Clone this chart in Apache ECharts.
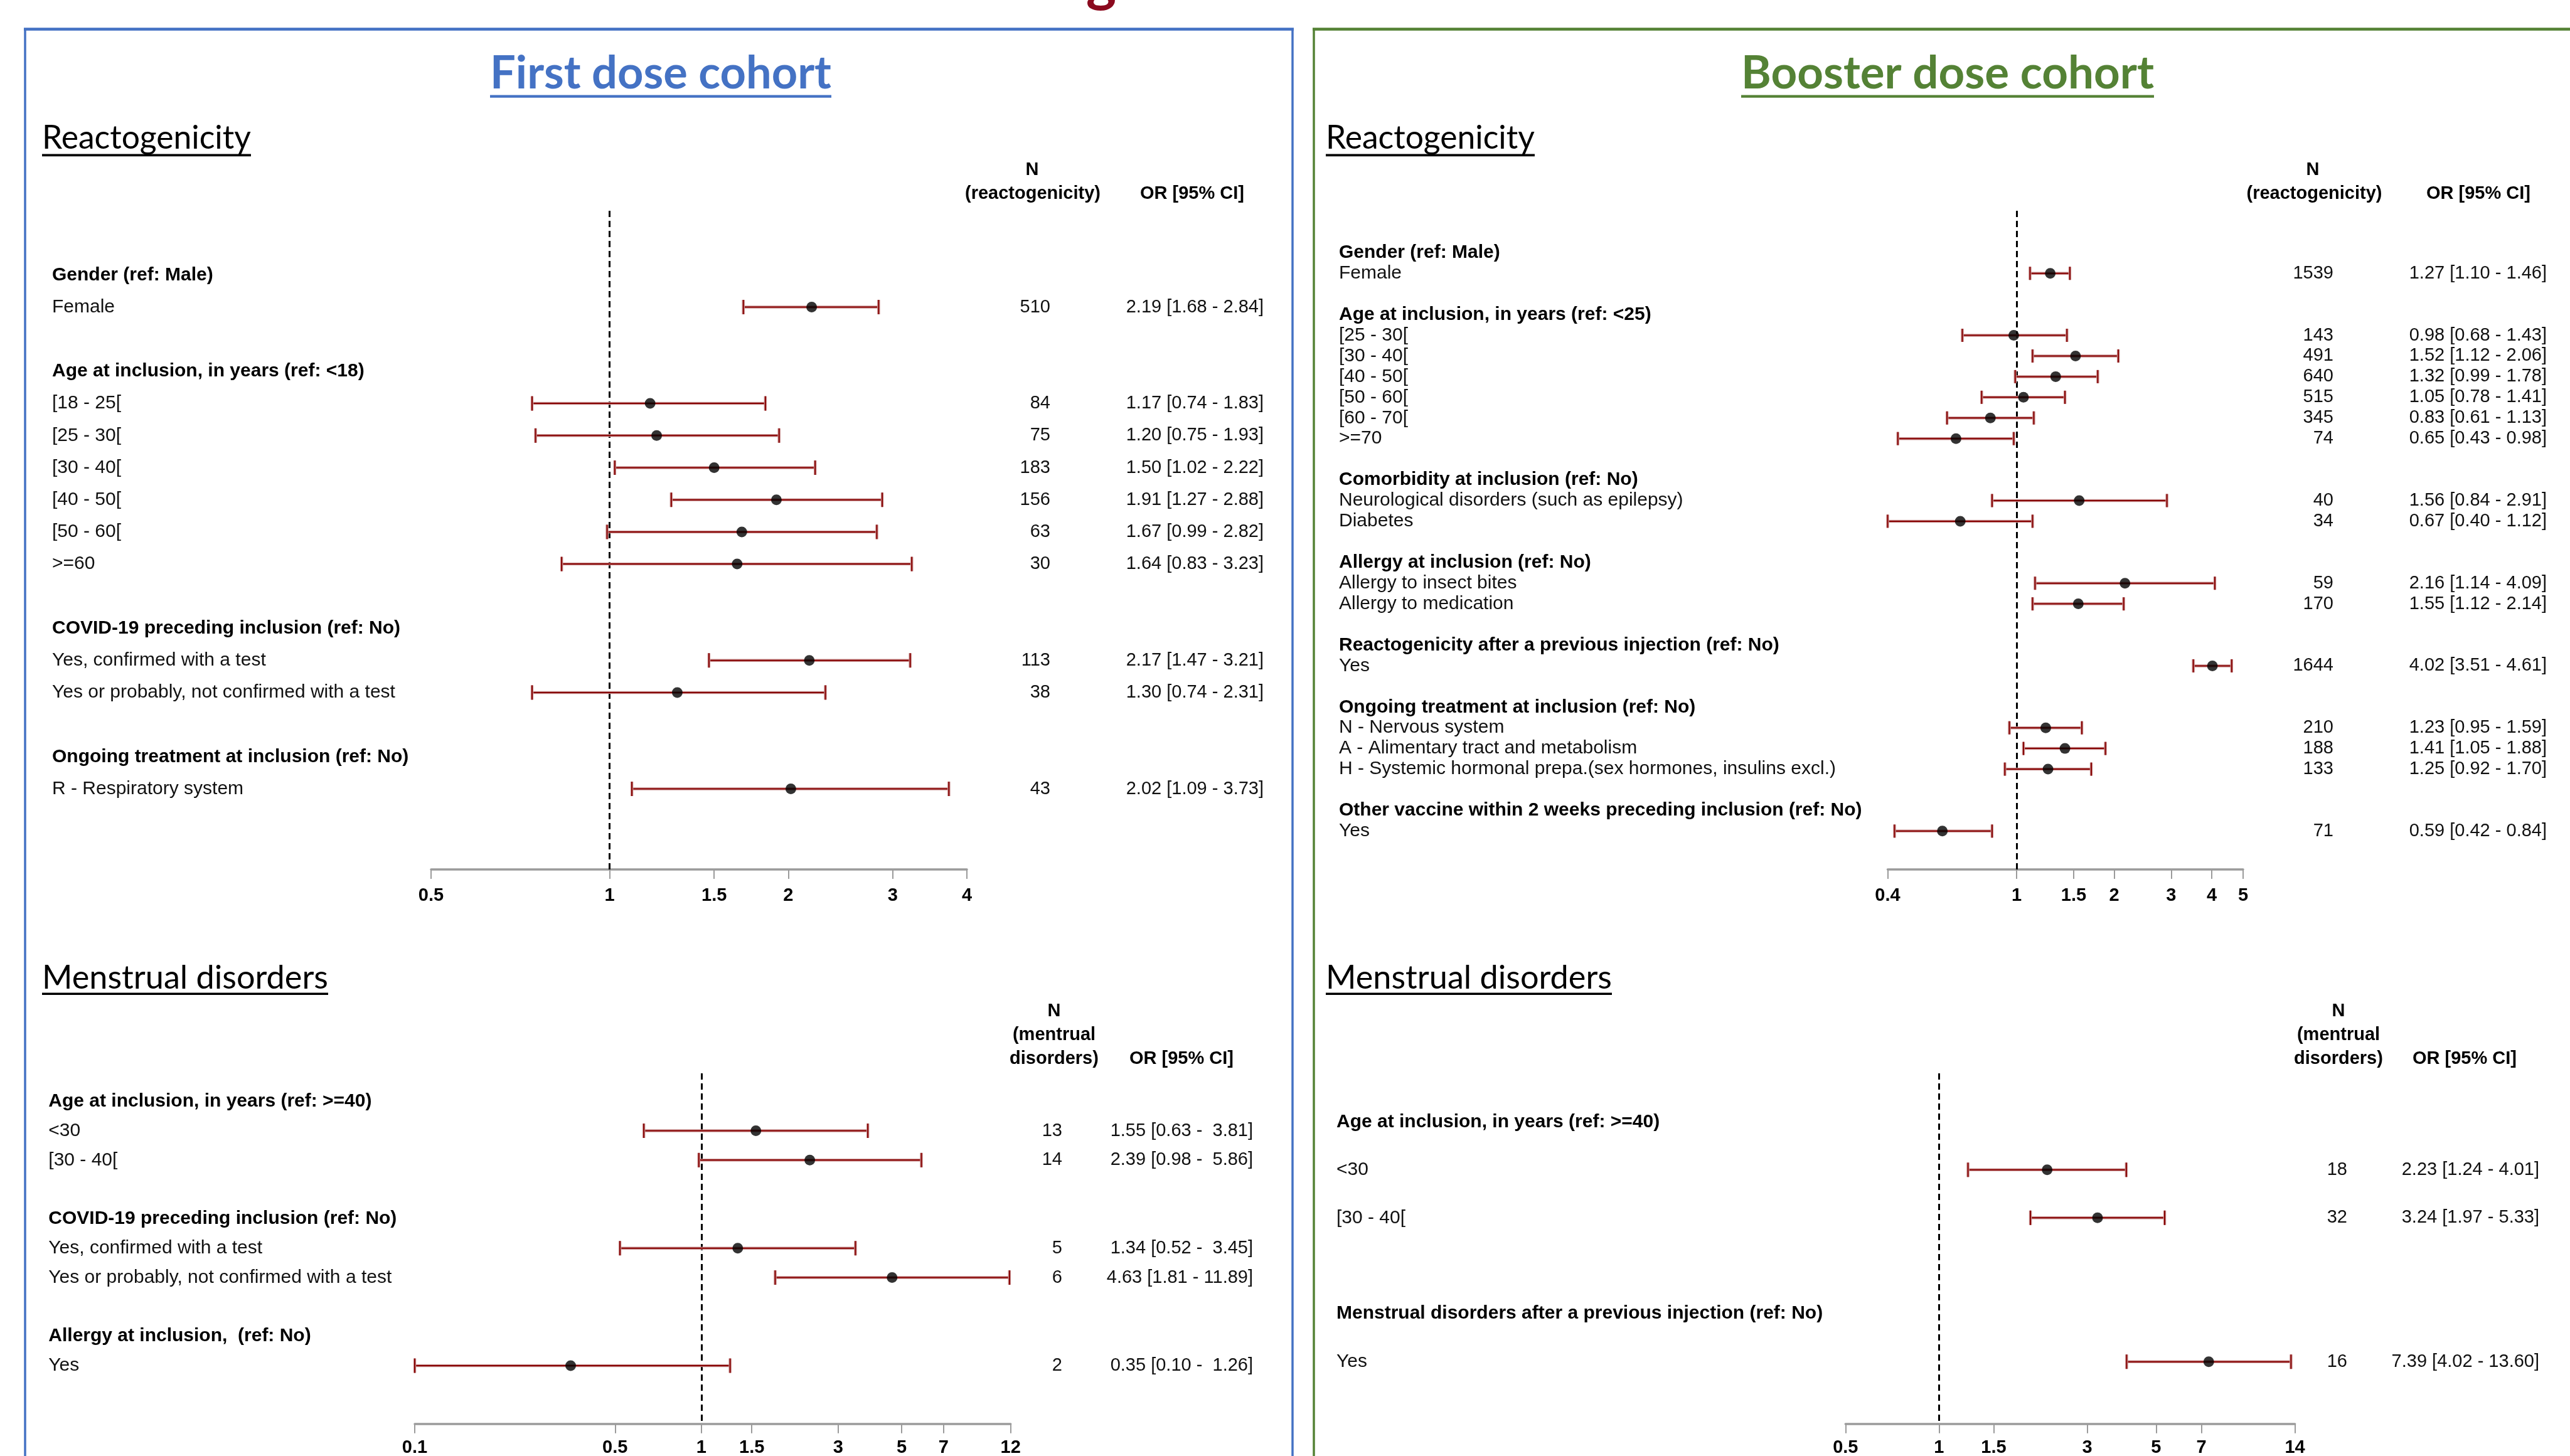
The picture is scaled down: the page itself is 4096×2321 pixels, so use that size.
<!DOCTYPE html>
<html><head><meta charset="utf-8">
<script src="https://cdn.jsdelivr.net/npm/echarts@6.0.0/dist/echarts.min.js"></script>
<style>html,body{margin:0;padding:0;background:#fff;overflow:hidden}#chart{width:4096px;height:2321px}</style>
</head><body><div id="chart"></div>
<script>
// ================= DATA =================
// First dose cohort - Reactogenicity
const fdReactoLabels = [
  'Gender (ref: Male)', 'Female', '',
  'Age at inclusion, in years (ref: <18)', '[18 - 25[', '[25 - 30[', '[30 - 40[', '[40 - 50[', '[50 - 60[', '>=60', '',
  'COVID-19 preceding inclusion (ref: No)', 'Yes, confirmed with a test', 'Yes or probably, not confirmed with a test', '',
  'Ongoing treatment at inclusion (ref: No)', 'R - Respiratory system'
];
const fdReactoHeaders = ['Gender (ref: Male)', 'Age at inclusion, in years (ref: <18)', 'COVID-19 preceding inclusion (ref: No)', 'Ongoing treatment at inclusion (ref: No)'];
const fdReactoOR   = [2.19, 1.17, 1.20, 1.50, 1.91, 1.67, 1.64, 2.17, 1.30, 2.02];
const fdReactoLow  = [1.68, 0.74, 0.75, 1.02, 1.27, 0.99, 0.83, 1.47, 0.74, 1.09];
const fdReactoHigh = [2.84, 1.83, 1.93, 2.22, 2.88, 2.82, 3.23, 3.21, 2.31, 3.73];
const fdReactoN    = [510, 84, 75, 183, 156, 63, 30, 113, 38, 43];
const fdReactoCI   = ['2.19 [1.68 - 2.84]', '1.17 [0.74 - 1.83]', '1.20 [0.75 - 1.93]', '1.50 [1.02 - 2.22]', '1.91 [1.27 - 2.88]',
                      '1.67 [0.99 - 2.82]', '1.64 [0.83 - 3.23]', '2.17 [1.47 - 3.21]', '1.30 [0.74 - 2.31]', '2.02 [1.09 - 3.73]'];
const fdReactoTicks = [0.5, 1, 1.5, 2, 3, 4];

// Booster dose cohort - Reactogenicity
const bdReactoLabels = [
  'Gender (ref: Male)', 'Female', '',
  'Age at inclusion, in years (ref: <25)', '[25 - 30[', '[30 - 40[', '[40 - 50[', '[50 - 60[', '[60 - 70[', '>=70', '',
  'Comorbidity at inclusion (ref: No)', 'Neurological disorders (such as epilepsy)', 'Diabetes', '',
  'Allergy at inclusion (ref: No)', 'Allergy to insect bites', 'Allergy to medication', '',
  'Reactogenicity after a previous injection (ref: No)', 'Yes', '',
  'Ongoing treatment at inclusion (ref: No)', 'N - Nervous system', 'A - Alimentary tract and metabolism', 'H - Systemic hormonal prepa.(sex hormones, insulins excl.)', '',
  'Other vaccine within 2 weeks preceding inclusion (ref: No)', 'Yes'
];
const bdReactoHeaders = ['Gender (ref: Male)', 'Age at inclusion, in years (ref: <25)', 'Comorbidity at inclusion (ref: No)', 'Allergy at inclusion (ref: No)',
  'Reactogenicity after a previous injection (ref: No)', 'Ongoing treatment at inclusion (ref: No)', 'Other vaccine within 2 weeks preceding inclusion (ref: No)'];
const bdReactoOR   = [1.27, 0.98, 1.52, 1.32, 1.05, 0.83, 0.65, 1.56, 0.67, 2.16, 1.55, 4.02, 1.23, 1.41, 1.25, 0.59];
const bdReactoLow  = [1.10, 0.68, 1.12, 0.99, 0.78, 0.61, 0.43, 0.84, 0.40, 1.14, 1.12, 3.51, 0.95, 1.05, 0.92, 0.42];
const bdReactoHigh = [1.46, 1.43, 2.06, 1.78, 1.41, 1.13, 0.98, 2.91, 1.12, 4.09, 2.14, 4.61, 1.59, 1.88, 1.70, 0.84];
const bdReactoN    = [1539, 143, 491, 640, 515, 345, 74, 40, 34, 59, 170, 1644, 210, 188, 133, 71];
const bdReactoCI   = ['1.27 [1.10 - 1.46]', '0.98 [0.68 - 1.43]', '1.52 [1.12 - 2.06]', '1.32 [0.99 - 1.78]', '1.05 [0.78 - 1.41]',
                      '0.83 [0.61 - 1.13]', '0.65 [0.43 - 0.98]', '1.56 [0.84 - 2.91]', '0.67 [0.40 - 1.12]', '2.16 [1.14 - 4.09]',
                      '1.55 [1.12 - 2.14]', '4.02 [3.51 - 4.61]', '1.23 [0.95 - 1.59]', '1.41 [1.05 - 1.88]', '1.25 [0.92 - 1.70]', '0.59 [0.42 - 0.84]'];
const bdReactoTicks = [0.4, 1, 1.5, 2, 3, 4, 5];

// First dose cohort - Menstrual disorders
const fdMensLabels = [
  'Age at inclusion, in years (ref: >=40)', '<30', '[30 - 40[', '',
  'COVID-19 preceding inclusion (ref: No)', 'Yes, confirmed with a test', 'Yes or probably, not confirmed with a test', '',
  'Allergy at inclusion,  (ref: No)', 'Yes'
];
const fdMensHeaders = ['Age at inclusion, in years (ref: >=40)', 'COVID-19 preceding inclusion (ref: No)', 'Allergy at inclusion,  (ref: No)'];
const fdMensOR   = [1.55, 2.39, 1.34, 4.63, 0.35];
const fdMensLow  = [0.63, 0.98, 0.52, 1.81, 0.10];
const fdMensHigh = [3.81, 5.86, 3.45, 11.89, 1.26];
const fdMensN    = [13, 14, 5, 6, 2];
const fdMensCI   = ['1.55 [0.63 -  3.81]', '2.39 [0.98 -  5.86]', '1.34 [0.52 -  3.45]', '4.63 [1.81 - 11.89]', '0.35 [0.10 -  1.26]'];
const fdMensTicks = [0.1, 0.5, 1, 1.5, 3, 5, 7, 12];

// Booster dose cohort - Menstrual disorders
const bdMensLabels = [
  'Age at inclusion, in years (ref: >=40)', '<30', '[30 - 40[', '',
  'Menstrual disorders after a previous injection (ref: No)', 'Yes'
];
const bdMensHeaders = ['Age at inclusion, in years (ref: >=40)', 'Menstrual disorders after a previous injection (ref: No)'];
const bdMensOR   = [2.23, 3.24, 7.39];
const bdMensLow  = [1.24, 1.97, 4.02];
const bdMensHigh = [4.01, 5.33, 13.60];
const bdMensN    = [18, 32, 16];
const bdMensCI   = ['2.23 [1.24 - 4.01]', '3.24 [1.97 - 5.33]', '7.39 [4.02 - 13.60]'];
const bdMensTicks = [0.5, 1, 1.5, 3, 5, 7, 14];

const reactoColHeads = ['N', '(reactogenicity)', 'OR [95% CI]'];
const mensColHeads = ['N', '(mentrual', 'disorders)', 'OR [95% CI]'];
const cohortTitles = ['First dose cohort', 'Booster dose cohort'];
const sectionTitles = ['Reactogenicity', 'Menstrual disorders'];

// ================= LAYOUT / STYLE =================
const FONT = 'Liberation Sans, Arial, sans-serif';
const TFONT = 'Lato, Calibri, sans-serif';
const CI_DARK = '#860000';
const CI_HALO = '#c89090';
const AXIS_GRAY = '#9b9b9b';

const panels = [
  { labels: fdReactoLabels, headers: fdReactoHeaders, or: fdReactoOR, low: fdReactoLow, high: fdReactoHigh, n: fdReactoN, ci: fdReactoCI, ticks: fdReactoTicks,
    L: { left: 687, right: 1541, top: 336, bottom: 1386, labelX: 83, nRight: 1674, orRight: 2014, row0: 438.3, step: 51.2, capH: 11.5, lblMargin: 27 } },
  { labels: bdReactoLabels, headers: bdReactoHeaders, or: bdReactoOR, low: bdReactoLow, high: bdReactoHigh, n: bdReactoN, ci: bdReactoCI, ticks: bdReactoTicks,
    L: { left: 3008.5, right: 3575, top: 336, bottom: 1386, labelX: 2134, nRight: 3719, orRight: 4059, row0: 402.8, step: 32.93, capH: 10.5, lblMargin: 27 } },
  { labels: fdMensLabels, headers: fdMensHeaders, or: fdMensOR, low: fdMensLow, high: fdMensHigh, n: fdMensN, ci: fdMensCI, ticks: fdMensTicks,
    L: { left: 661, right: 1610.7, top: 1711, bottom: 2269.7, labelX: 77.3, nRight: 1693, orRight: 1997, row0: 1755.7, step: 46.81, capH: 11.5, lblMargin: 24 } },
  { labels: bdMensLabels, headers: bdMensHeaders, or: bdMensOR, low: bdMensLow, high: bdMensHigh, n: bdMensN, ci: bdMensCI, ticks: bdMensTicks,
    L: { left: 2941.3, right: 3657.6, top: 1711, bottom: 2269.7, labelX: 2130, nRight: 3741, orRight: 4047, row0: 1788.3, step: 76.48, capH: 11.5, lblMargin: 24 } }
];

const lg = v => Math.log10(v);

const grids = [], xAxes = [], yAxes = [], series = [];

panels.forEach((p, k) => {
  const L = p.L;
  const allIdx = p.labels.map((t, i) => i);
  const labelRows = allIdx.filter(i => p.labels[i] !== '');
  const itemRows = allIdx.filter(i => p.labels[i] !== '' && !p.headers.includes(p.labels[i]));
  const yMin = (L.top - L.row0) / L.step;
  const yMax = (L.bottom - L.row0) / L.step;
  const tickLog = p.ticks.map(lg);

  grids.push({ left: L.left, top: L.top, width: L.right - L.left, height: L.bottom - L.top,
               containLabel: false, outerBoundsMode: 'none', show: false });

  xAxes.push({
    type: 'value', gridIndex: k, position: 'bottom',
    min: tickLog[0], max: tickLog[tickLog.length - 1],
    splitLine: { show: false },
    axisLine: { show: true, onZero: false, lineStyle: { color: AXIS_GRAY, width: 3.5 } },
    axisTick: { show: true, customValues: tickLog, length: 15, lineStyle: { color: AXIS_GRAY, width: 2 } },
    axisLabel: {
      show: true, customValues: tickLog, margin: L.lblMargin,
      formatter: v => {
        let best = 0;
        tickLog.forEach((t, i) => { if (Math.abs(t - v) < Math.abs(tickLog[best] - v)) best = i; });
        return String(p.ticks[best]);
      },
      color: '#000', fontFamily: FONT, fontWeight: 'bold', fontSize: 29
    }
  });

  const yBase = {
    type: 'value', gridIndex: k, inverse: true, min: yMin, max: yMax,
    axisLine: { show: false, onZero: false }, axisTick: { show: false }, splitLine: { show: false }
  };
  yAxes.push(Object.assign({}, yBase, {
    position: 'left',
    axisLabel: {
      customValues: labelRows, align: 'left', margin: L.left - L.labelX,
      formatter: v => {
        const t = p.labels[Math.round(v)];
        return p.headers.includes(t) ? '{b|' + t + '}' : t;
      },
      color: '#111', fontFamily: FONT, fontSize: 30,
      rich: { b: { fontWeight: 'bold', fontFamily: FONT, fontSize: 30, color: '#000' } }
    }
  }));
  yAxes.push(Object.assign({}, yBase, {
    position: 'right',
    axisLabel: {
      customValues: itemRows, align: 'right', margin: L.nRight - L.right,
      formatter: v => String(p.n[itemRows.indexOf(Math.round(v))]),
      color: '#111', fontFamily: FONT, fontSize: 29
    }
  }));
  yAxes.push(Object.assign({}, yBase, {
    position: 'right',
    axisLabel: {
      customValues: itemRows, align: 'right', margin: L.orRight - L.right,
      formatter: v => p.ci[itemRows.indexOf(Math.round(v))],
      color: '#111', fontFamily: FONT, fontSize: 29
    }
  }));

  const ciData = p.or.map((o, j) => [lg(p.low[j]), lg(p.high[j]), itemRows[j]]);
  const capH = L.capH;
  series.push({
    type: 'custom', xAxisIndex: k, yAxisIndex: 3 * k, data: ciData, silent: true, z: 3,
    encode: { x: [0, 1], y: 2 },
    renderItem: (params, api) => {
      const a = api.coord([api.value(0), api.value(2)]);
      const b = api.coord([api.value(1), api.value(2)]);
      const mk = (x1, y1, x2, y2) => [
        { type: 'line', shape: { x1, y1, x2, y2 }, style: { stroke: CI_HALO, lineWidth: 4.5 } },
        { type: 'line', shape: { x1, y1, x2, y2 }, style: { stroke: CI_DARK, lineWidth: 2 } }
      ];
      return { type: 'group', children: [].concat(
        mk(a[0], a[1], b[0], b[1]),
        mk(a[0], a[1] - capH, a[0], a[1] + capH),
        mk(b[0], b[1] - capH, b[0], b[1] + capH)
      ) };
    }
  });
  series.push({
    type: 'scatter', xAxisIndex: k, yAxisIndex: 3 * k, z: 4, silent: true,
    data: p.or.map((o, j) => [lg(o), itemRows[j]]),
    symbol: 'circle', symbolSize: 17, itemStyle: { color: '#000' },
    markLine: {
      silent: true, symbol: 'none', label: { show: false }, z: 2,
      lineStyle: { color: '#000', width: 3, type: [10, 6] },
      data: [{ xAxis: lg(1) }]
    }
  });
});

// ---------- decorations ----------
const ctx = document.createElement('canvas').getContext('2d');
function fitSize(text, weight, family, target) {
  ctx.font = weight + ' 100px ' + family;
  return 100 * target / ctx.measureText(text).width;
}
const graphic = [];
// partial page title (only descender visible)
graphic.push({ type: 'text', x: 1755, y: -30, z: 1,
  style: { text: 'g', fontFamily: TFONT, fontWeight: 'bold', fontSize: 92, fill: '#8B0A1E', align: 'center', verticalAlign: 'middle' } });
// boxes
graphic.push({ type: 'rect', shape: { x: 40, y: 46.5, width: 2020, height: 2400 }, style: { fill: 'none', stroke: '#4472C4', lineWidth: 3.5 } });
graphic.push({ type: 'line', shape: { x1: 38, y1: 46.5, x2: 2062, y2: 46.5 }, style: { stroke: '#4472C4', lineWidth: 4.7 } });
graphic.push({ type: 'rect', shape: { x: 2094, y: 46.5, width: 2100, height: 2400 }, style: { fill: 'none', stroke: '#548235', lineWidth: 3.5 } });
graphic.push({ type: 'line', shape: { x1: 2092, y1: 46.5, x2: 4200, y2: 46.5 }, style: { stroke: '#548235', lineWidth: 4.7 } });

// cohort titles
[[cohortTitles[0], 781, 1325, '#4472C4'], [cohortTitles[1], 2775, 3433, '#548235']].forEach(([t, x1, x2, col]) => {
  const fs = fitSize(t, 'bold', TFONT, x2 - x1);
  graphic.push({ type: 'text', x: (x1 + x2) / 2, y: 118,
    style: { text: t, fontFamily: TFONT, fontWeight: 'bold', fontSize: fs, fill: col, align: 'center', verticalAlign: 'middle' } });
  graphic.push({ type: 'line', shape: { x1, y1: 153.6, x2, y2: 153.6 }, style: { stroke: col, lineWidth: 4.2 } });
});
// section titles
[[sectionTitles[0], 67, 400, 220.7, 247.4], [sectionTitles[0], 2113, 2446, 220.7, 247.4],
 [sectionTitles[1], 67, 523, 1559.5, 1584.3], [sectionTitles[1], 2113, 2569, 1559.5, 1584.3]].forEach(([t, x1, x2, y, uy]) => {
  const fs = fitSize(t, 'normal', TFONT, x2 - x1);
  graphic.push({ type: 'text', x: x1, y,
    style: { text: t, fontFamily: TFONT, fontSize: fs, fill: '#000', align: 'left', verticalAlign: 'middle' } });
  graphic.push({ type: 'line', shape: { x1, y1: uy, x2, y2: uy }, style: { stroke: '#000', lineWidth: 3.6 } });
});
// column headers
const headStyle = (text, x, y) => ({ type: 'text', x, y,
  style: { text, fontFamily: FONT, fontWeight: 'bold', fontSize: 29, fill: '#000', align: 'center', verticalAlign: 'middle' } });
graphic.push(headStyle(reactoColHeads[0], 1645, 271), headStyle(reactoColHeads[1], 1646, 308.5), headStyle(reactoColHeads[2], 1900, 308.5));
graphic.push(headStyle(reactoColHeads[0], 3686, 271), headStyle(reactoColHeads[1], 3688.5, 308.5), headStyle(reactoColHeads[2], 3950, 308.5));
graphic.push(headStyle(mensColHeads[0], 1680, 1611.7), headStyle(mensColHeads[1], 1680, 1649.9), headStyle(mensColHeads[2], 1680, 1687.5), headStyle(mensColHeads[3], 1883, 1687.5));
graphic.push(headStyle(mensColHeads[0], 3727, 1611.7), headStyle(mensColHeads[1], 3727, 1649.9), headStyle(mensColHeads[2], 3727, 1687.5), headStyle(mensColHeads[3], 3928, 1687.5));

const chart = echarts.init(document.getElementById('chart'), null, { renderer: 'canvas' });
chart.setOption({
  animation: false,
  backgroundColor: '#ffffff',
  grid: grids,
  xAxis: xAxes,
  yAxis: yAxes,
  series: series,
  graphic: graphic
});
</script>
</body></html>
